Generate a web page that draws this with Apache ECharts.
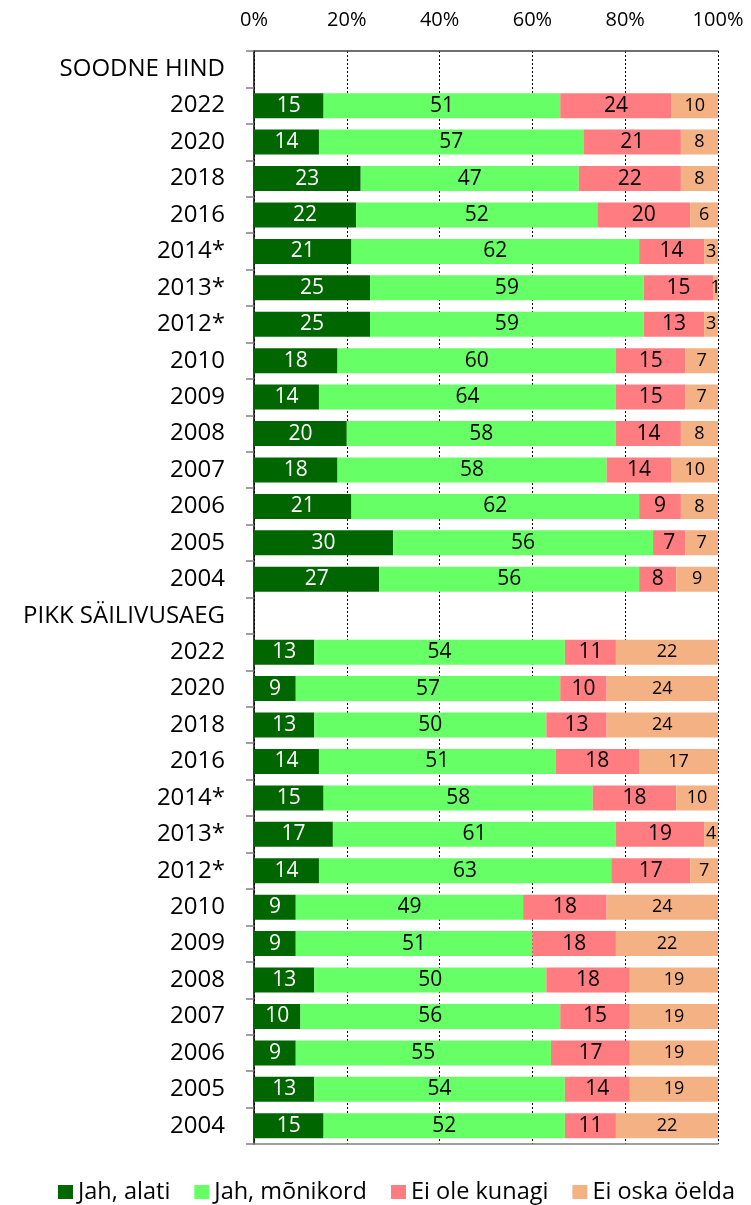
<!DOCTYPE html>
<html>
<head>
<meta charset="utf-8">
<script src="https://cdn.jsdelivr.net/npm/echarts@6/dist/echarts.min.js"></script>
<style>
  html, body { margin: 0; padding: 0; background: #fff; }
  #container { width: 751px; height: 1205px; }
</style>
</head>
<body>
<div id="container"></div>
<script>
var categories = ['SOODNE HIND', '2022', '2020', '2018', '2016', '2014*', '2013*', '2012*', '2010', '2009', '2008', '2007', '2006', '2005', '2004',
  'PIKK SÄILIVUSAEG', '2022 ', '2020 ', '2018 ', '2016 ', '2014* ', '2013* ', '2012* ', '2010 ', '2009 ', '2008 ', '2007 ', '2006 ', '2005 ', '2004 '];

var jahAlati = [null, 15, 14, 23, 22, 21, 25, 25, 18, 14, 20, 18, 21, 30, 27,
  null, 13, 9, 13, 14, 15, 17, 14, 9, 9, 13, 10, 9, 13, 15];
var jahMonikord = [null, 51, 57, 47, 52, 62, 59, 59, 60, 64, 58, 58, 62, 56, 56,
  null, 54, 57, 50, 51, 58, 61, 63, 49, 51, 50, 56, 55, 54, 52];
var eiOleKunagi = [null, 24, 21, 22, 20, 14, 15, 13, 15, 15, 14, 14, 9, 7, 8,
  null, 11, 10, 13, 18, 18, 19, 17, 18, 18, 18, 15, 17, 14, 11];
var eiOskaOelda = [null, 10, 8, 8, 6, 3, 1, 3, 7, 7, 8, 10, 8, 7, 9,
  null, 22, 24, 24, 17, 10, 4, 7, 24, 22, 19, 19, 19, 19, 22];

var seriesNames = ['Jah, alati', 'Jah, mõnikord', 'Ei ole kunagi', 'Ei oska öelda'];
var colors = ['#006600', '#66FF66', '#FF7C80', '#F4B183'];

var font = 'Open Sans';
var dom = document.getElementById('container');
var myChart = echarts.init(dom, null, { renderer: 'canvas' });

function barSeries(name, data, color, labelColor, labelSize) {
  return {
    name: name,
    type: 'bar',
    stack: 'total',
    data: data,
    barWidth: 25,
    itemStyle: { color: color },
    label: {
      show: true,
      position: 'inside',
      color: labelColor,
      fontFamily: font,
      fontSize: labelSize,
      formatter: function (p) { return p.value == null ? '' : p.value; }
    }
  };
}

var option = {
  color: colors,
  animation: false,
  grid: { left: 254, right: 33, top: 51, bottom: 61 },
  legend: {
    top: 1177,
    left: 58,
    padding: 0,
    itemWidth: 15,
    itemHeight: 14,
    itemGap: 24,
    icon: 'rect',
    textStyle: { fontFamily: font, fontSize: 23.5, color: '#000', lineHeight: 30 },
    data: seriesNames
  },
  xAxis: [{
    type: 'value',
    position: 'top',
    min: 0,
    max: 100,
    interval: 20,
    axisLine: { show: true, lineStyle: { color: '#404040', width: 1.5 } },
    axisTick: { show: false },
    axisLabel: { formatter: '{value}%', fontFamily: font, fontSize: 20, color: '#000', margin: 21 },
    splitLine: { show: true, lineStyle: { color: '#000', type: [2, 2], width: 1 } }
  }, {
    type: 'value',
    position: 'bottom',
    min: 0,
    max: 100,
    axisLine: { show: true, lineStyle: { color: '#808080', width: 1.5 } },
    axisTick: { show: false },
    axisLabel: { show: false },
    splitLine: { show: false }
  }],
  yAxis: {
    type: 'category',
    inverse: true,
    data: categories,
    axisLine: { show: true, lineStyle: { color: '#000', width: 1.5 } },
    axisTick: { show: true, interval: 0, length: 8, lineStyle: { color: '#808080', width: 1.5 } },
    axisLabel: {
      fontFamily: font, fontSize: 24, color: '#000', margin: 29,
      formatter: function (v) { return v.trim(); }
    }
  },
  series: [
    barSeries(seriesNames[0], jahAlati, colors[0], '#fff', 21),
    barSeries(seriesNames[1], jahMonikord, colors[1], '#000', 21),
    barSeries(seriesNames[2], eiOleKunagi, colors[2], '#000', 21),
    barSeries(seriesNames[3], eiOskaOelda, colors[3], '#000', 18)
  ]
};

myChart.setOption(option);
window.addEventListener('resize', myChart.resize);
</script>
</body>
</html>
